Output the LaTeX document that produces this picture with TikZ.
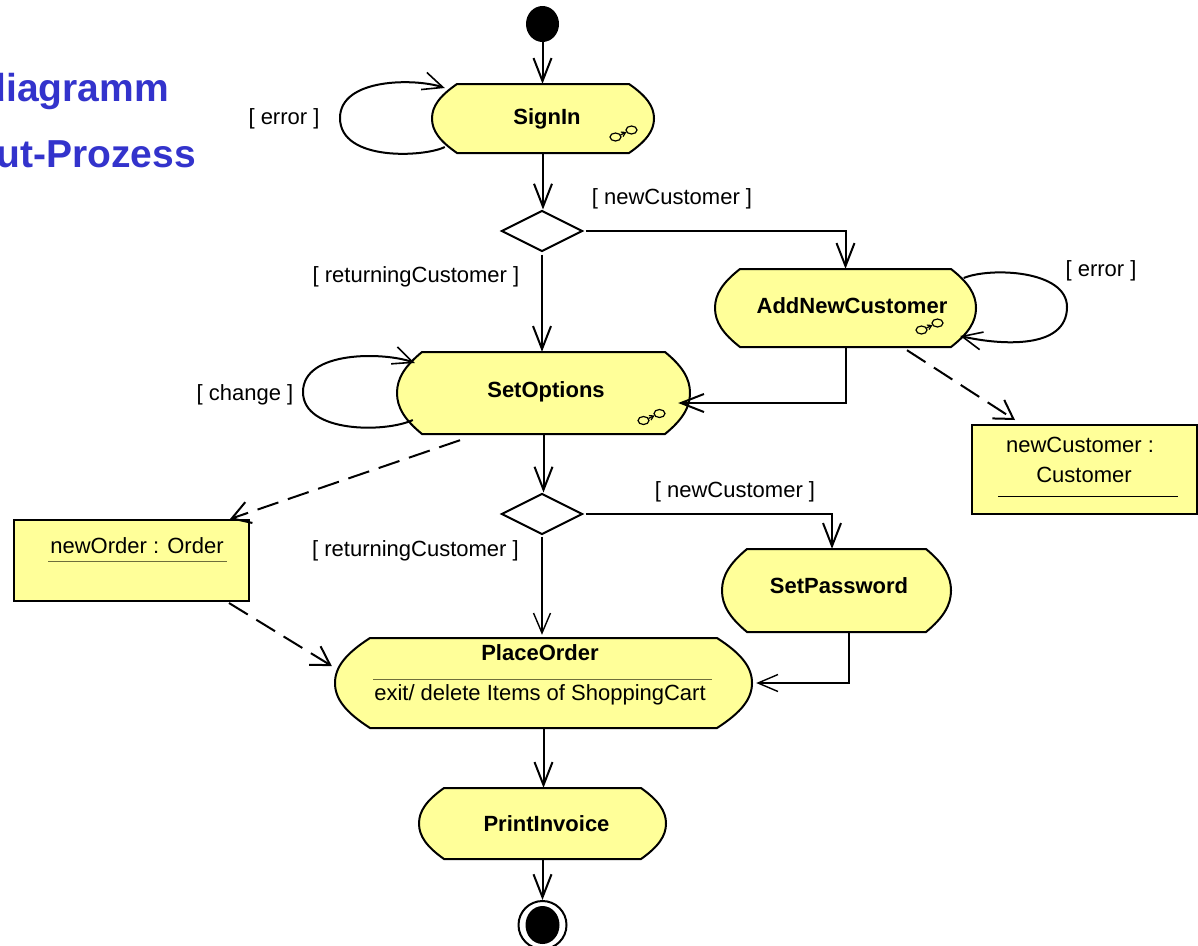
\documentclass[tikz,border=0pt]{standalone}
\usepackage{fontspec}
\setmainfont{Liberation Sans}
\usetikzlibrary{arrows.meta,shapes.geometric}
\definecolor{actfill}{HTML}{FFFF99}
\definecolor{titleblue}{HTML}{3333CC}
\definecolor{sepline}{HTML}{6E6E3C}
\tikzset{
	every node/.style={font=\fontsize{22}{26}\selectfont,inner sep=0pt},
	flow/.style={line width=2pt,-{Straight Barb[length=23pt,width=18pt,line width=2pt]}},
	thinflow/.style={line width=1.4pt,-{Straight Barb[length=20pt,width=17pt,line width=1.4pt]}},
	loopflow/.style={line width=2pt,-{Straight Barb[length=20pt,width=18pt,line width=1.6pt]}},
	dep/.style={line width=2pt,dash pattern=on 22pt off 10pt,-{Straight Barb[length=18pt,width=22pt,line width=2pt]}},
	act/.style={line width=2pt,draw=black,fill=actfill},
	actname/.style={font=\fontsize{22}{26}\selectfont\bfseries},
	objbox/.style={rectangle,line width=2pt,draw=black,fill=actfill},
	choice/.style={diamond,line width=2pt,draw=black,fill=white,shape aspect=2,minimum width=81pt,minimum height=41pt},
	guard/.style={},
	sep/.style={line width=1pt,draw=sepline},
	subicon/.pic={
		\draw [line width=1.2pt] (-8,3.5) ellipse [x radius=5.5,y radius=4] (8,-3.5) ellipse [x radius=5.5,y radius=4];
		\draw [line width=1.2pt,-{Straight Barb[length=4pt,width=5pt]}] (-3,1.5) -- (3,-1.5);
	}
}
\newcommand{\actnode}[7][25]{%
	\begin{scope}[shift={(#3,#4)}]
		\pgfmathsetmacro{\acthw}{#5/2}
		\pgfmathsetmacro{\acthh}{#6/2}
		\draw [act] (-\acthw+#1,-\acthh) -- (\acthw-#1,-\acthh)
		.. controls (\acthw-#1*.3,-\acthh*.65) and (\acthw,-\acthh*.35) .. (\acthw,0)
		.. controls (\acthw,\acthh*.35) and (\acthw-#1*.3,\acthh*.65) .. (\acthw-#1,\acthh)
		-- (-\acthw+#1,\acthh)
		.. controls (-\acthw+#1*.3,\acthh*.65) and (-\acthw,\acthh*.35) .. (-\acthw,0)
		.. controls (-\acthw,-\acthh*.35) and (-\acthw+#1*.3,-\acthh*.65) .. cycle;
	\end{scope}
	\node [actname,minimum width=#5pt,minimum height=#6pt] (#2) at (#3,#4) {#7};
}
\newcommand{\movedname}[3]{\raisebox{#2pt}{\hspace*{#1pt}#3}}
\begin{document}
\begin{tikzpicture}[x=1pt,y=-1pt]
	\useasboundingbox (0,0) rectangle (1198,945);
	\clip (0,0) rectangle (1198,945);

	\node [font=\fontsize{39}{45}\selectfont\bfseries,text=titleblue,anchor=base east] (titleone) at (169,101) {diagramm};
	\node [font=\fontsize{39}{45}\selectfont\bfseries,text=titleblue,anchor=base east] (titletwo) at (196,167) {ut-Prozess};

	\node [ellipse,fill=black,minimum width=33pt,minimum height=36pt] (start) at (542.5,24) {};
	\actnode{signin}{543}{118.5}{222}{69}{\movedname{8}{0}{SignIn}}
	\pic at (623.5,133.5) {subicon};
	\node [choice] (choiceone) at (542,231) {};
	\actnode{addnew}{845.5}{308}{261}{78}{\movedname{13}{4}{AddNewCustomer}}
	\pic at (929.5,326.5) {subicon};
	\actnode{setoptions}{543.5}{393}{293}{82}{\movedname{5}{6}{SetOptions}}
	\pic at (651.5,417) {subicon};
	\node [choice] (choicetwo) at (542,514) {};
	\actnode{setpassword}{836.5}{590.5}{229}{83}{\movedname{5}{9}{SetPassword}}
	\actnode[35]{placeorder}{543.5}{683}{417}{90}{}
	\node [actname] (placeordername) at (540,653) {PlaceOrder};
	\node (placeorderexit) at (540,695) {exit/ delete Items of ShoppingCart};
	\draw [sep] (373,679) -- (712,679);
	\actnode{printinvoice}{542.5}{823.5}{247}{71}{\movedname{8}{0}{PrintInvoice}}
	\node [ellipse,line width=2pt,draw=black,fill=white,minimum width=48pt,minimum height=48pt] (finish) at (542.5,925) {};
	\node [ellipse,fill=black,minimum width=34pt,minimum height=38pt] (finishdot) at (542.5,925) {};

	\node [objbox,minimum width=225pt,minimum height=89pt] (customerobj) at (1084.5,469.5) {};
	\node [align=center] (customerobjname) at (1084,460) {newCustomer :\hspace*{8pt}\\[4pt]Customer};
	\draw [line width=1pt] (998,496) -- (1178,496);
	\node [objbox,minimum width=235pt,minimum height=81pt] (orderobj) at (131.5,560.5) {};
	\node (orderobjname) at (137,546) {newOrder : Order};
	\draw [sep] (48,561) -- (227,561);

	\node [guard] (errorone) at (284,119) {[ error ]};
	\node [guard] (errortwo) at (1101,271) {[ error ]};
	\node [guard] (change) at (245,395) {[ change ]};
	\node [guard] (newone) at (672,199) {[ newCustomer ]};
	\node [guard] (newtwo) at (735,492) {[ newCustomer ]};
	\node [guard] (returningone) at (416,277) {[ returningCustomer ]};
	\node [guard] (returningtwo) at (415.5,551) {[ returningCustomer ]};

	\draw [flow] (start.south) -- (start.south |- signin.north);
	\draw [flow] (signin.south) -- (signin.south |- choiceone.north);
	\draw [flow,shorten <=2pt] (choiceone.east) -| (addnew.north);
	\draw [flow,shorten <=2pt] (choiceone.south) -- (choiceone.south |- setoptions.north);
	\draw [flow] (addnew.south) |- ([xshift=-12pt,yshift=-10pt]setoptions.east);
	\draw [flow] (setoptions.south) -- (setoptions.south |- choicetwo.north);
	\draw [flow,shorten <=2pt] (choicetwo.east) -| ([xshift=-4.5pt]setpassword.north);
	\draw [thinflow,shorten <=1pt,shorten >=3pt] (choicetwo.south) -- (choicetwo.south |- placeorder.north);
	\draw [thinflow] ([xshift=12.5pt]setpassword.south) |- ([xshift=4pt]placeorder.east);
	\draw [flow] (placeorder.south) -- (placeorder.south |- printinvoice.north);
	\draw [flow] (printinvoice.south) -- (finish.north);

	\draw [loopflow] ([xshift=13pt,yshift=-28.5pt]signin.west) .. controls (425,157) and (340,162) .. (340,118) .. controls (340,78) and (415,78) .. ([xshift=13pt,yshift=30.5pt]signin.west);
	\draw [loopflow] ([xshift=-12.5pt,yshift=30pt]addnew.east) .. controls (990,267) and (1067,270) .. (1067,307) .. controls (1067,350) and (1000,345) .. ([xshift=-16pt,yshift=-28pt]addnew.east);
	\draw [loopflow] ([xshift=16pt,yshift=-27pt]setoptions.west) .. controls (385,433) and (303,433) .. (303,392) .. controls (303,350) and (385,352) .. ([xshift=18pt,yshift=30pt]setoptions.west);

	\draw [dep] ([xshift=61.5pt,yshift=-3pt]addnew.south) -- ([xshift=-69.5pt,yshift=4pt]customerobj.north);
	\draw [dep] ([xshift=-83.5pt,yshift=-6pt]setoptions.south) -- ([xshift=98.5pt,yshift=0pt]orderobj.north);
	\draw [dep] ([xshift=97.5pt,yshift=-1pt]orderobj.south) -- ([xshift=-3pt,yshift=17pt]placeorder.west);
\end{tikzpicture}
\end{document}
